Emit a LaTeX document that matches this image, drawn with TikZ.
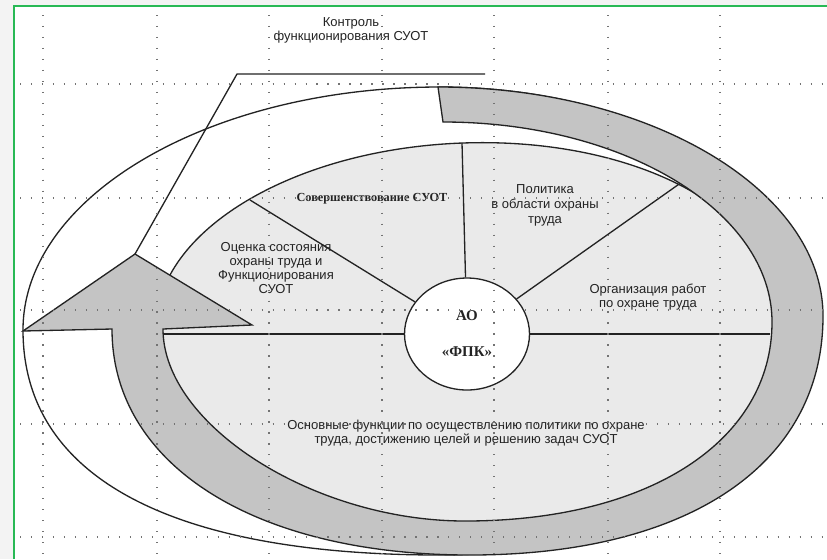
\documentclass[tikz,border=0pt]{standalone}
\usepackage{fontspec}
\setmainfont{Liberation Serif}
\setsansfont{Liberation Sans}
\usepackage{tikz}
\usetikzlibrary{shapes.geometric}
\usepackage{xcolor}
\definecolor{bandgray}{RGB}{196,196,196}
\definecolor{fillgray}{RGB}{234,234,234}
\definecolor{pagegray}{RGB}{243,243,243}
\definecolor{framegreen}{RGB}{40,185,85}
\definecolor{ink}{RGB}{35,35,35}

\begin{document}
\begin{tikzpicture}[x=0.02cm, y=-0.02cm,
		outline/.style={draw=ink, line width=0.75pt},
		gridline/.style={black!55, line width=0.7pt, dash pattern=on 0.7pt off 5.55pt},
		lbl/.style={font=\sffamily\fontsize{7.4}{7.9}\selectfont, align=center, text=ink, inner sep=0pt},
		serlbl/.style={font=\rmfamily\bfseries\fontsize{7}{8}\selectfont, text=ink, inner sep=0pt}]
		\useasboundingbox (0,0) rectangle (827,559);
		\fill[pagegray] (0,0) rectangle (827,559);
		\fill[white] (14,6) rectangle (827,559);
		\draw[framegreen, line width=1.2pt] (14,559) -- (14,6) -- (827,6);
		% outer white ellipse
		\filldraw[outline, fill=white] (23,330) .. controls (23,196) and (210,87) .. (440,87) .. controls (647,87) and (815,191) .. (815,320) .. controls (815,450) and (647,555) .. (440,555) .. controls (169,555) and (23,476) .. (23,330) -- cycle;
		% inner grey field
		\filldraw[outline, fill=fillgray, rotate around={2.5:(466,318)}] (466,318) ellipse[x radius=310, y radius=175];
		\fill[fillgray] (160,334) -- (775,334) -- (775,322) .. controls (775,442) and (651,524) .. (465,524) .. controls (312,524) and (160,426) .. (160,329) -- cycle;
		\node[ellipse, outline, fill=white, minimum width=2.5cm, minimum height=2.24cm, inner sep=0pt, align=center, text=ink, font=\rmfamily\bfseries\fontsize{8.5}{10}\selectfont] (ao) at (467,334) {АО\\[10.5pt]«ФПК»};
		\coordinate (g-n) at (462,143);
		\coordinate (g-nw) at (250,200);
		\coordinate (g-ne) at (682,182);
		\coordinate (g-w) at (163,334);
		\coordinate (g-e) at (770,334);
		\draw[outline] (g-w) -- (ao);
		\draw[outline] (ao) -- (g-e);
		\draw[outline] (ao) -- (g-n);
		\draw[outline] (ao) -- (g-nw);
		\draw[outline] (ao) -- (g-ne);
		% curved arrow
		\filldraw[outline, fill=bandgray] (438,87) .. controls (650,87) and (823,190) .. (823,316) .. controls (823,464) and (689,555) .. (470,555) .. controls (255,555) and (112,465) .. (112,329)
			-- (23,331) -- (135,254) coordinate (tip) -- (252,325) -- (163,329)
			.. controls (163,425) and (314,521) .. (465,521) .. controls (649,521) and (772,441) .. (772,322) .. controls (772,212) and (625,122) .. (443,122) -- cycle;
		% labels
		\node[lbl] (ctrl) at (351,30) {Контроль\\функционирования СУОТ};
		\node[serlbl] (sov) at (372,199) {Совершенствование СУОТ};
		\node[lbl, font=\sffamily\fontsize{7.4}{8.5}\selectfont] (pol) at (545,205) {Политика\\в области охраны\\труда};
		\node[lbl] (ocen) at (276,268) {Оценка состояния\\охраны труда и\\Функционирования\\СУОТ};
		\node[lbl] (org) at (648,297) {Организация работ\\по охране труда};
		\node[lbl] (osn) at (466,433) {Основные функции по осуществлению политики по охране\\труда, достижению целей и решению задач СУОТ};
		\coordinate (lead-r) at (485,74);
		\coordinate (lead-k) at (237,74);
		\draw[outline] (lead-r) -- (lead-k) -- (tip);
		% dotted grid
		\foreach \gx in {43,157,269,382,494,608,720}
			\draw[gridline] (\gx,15) -- (\gx,559);
		\foreach \gy in {84,198,310,424,537}
			\draw[gridline] (20,\gy) -- (827,\gy);
	\end{tikzpicture}
\end{document}
